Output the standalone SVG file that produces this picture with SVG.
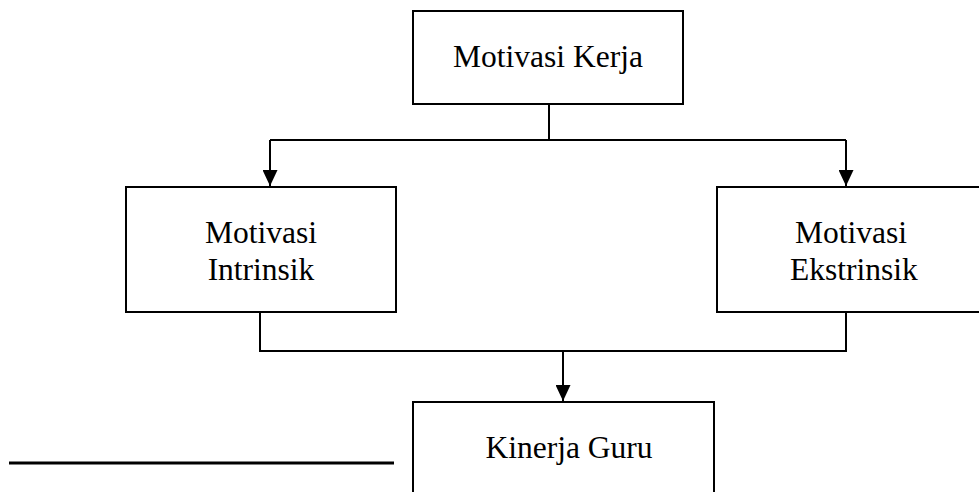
<svg xmlns="http://www.w3.org/2000/svg" width="979" height="492" viewBox="0 0 979 492">
<style>
.box{fill:#fff;stroke:#000;stroke-width:2}
.lbl{font-family:"Liberation Serif","Times New Roman",serif;font-size:31.5px;fill:#000;text-anchor:middle}
.con{fill:none;stroke:#000;stroke-width:2}
</style>
<defs>
<marker id="ah" markerUnits="userSpaceOnUse" markerWidth="16" markerHeight="15" refX="16" refY="7.5" orient="auto" viewBox="0 0 16 15">
<path d="M0,0 L16,7.5 L0,15 Z" fill="#000"/>
</marker>
</defs>
<rect width="979" height="492" fill="#fff"/>
<g id="connectors">
<path class="con" d="M549,104 V140"/>
<path class="con" d="M270,140 H846"/>
<path class="con" d="M270,140 V186" marker-end="url(#ah)"/>
<path class="con" d="M846,140 V186" marker-end="url(#ah)"/>
<path class="con" d="M260,313 V351 H846 V313"/>
<path class="con" d="M563,351 V401" marker-end="url(#ah)"/>
</g>
<g id="motivasi-kerja">
<rect class="box" x="413" y="11" width="270" height="93"/>
<text class="lbl" x="548" y="67">Motivasi Kerja</text>
</g>
<g id="motivasi-intrinsik">
<rect class="box" x="126" y="187" width="270" height="125"/>
<text class="lbl" x="261" y="243">Motivasi</text>
<text class="lbl" x="261" y="280">Intrinsik</text>
</g>
<g id="motivasi-ekstrinsik">
<rect class="box" x="717" y="187" width="270" height="125"/>
<text class="lbl" x="851" y="243">Motivasi</text>
<text class="lbl" x="854" y="280">Ekstrinsik</text>
</g>
<g id="kinerja-guru">
<rect class="box" x="413" y="402" width="301" height="100"/>
<text class="lbl" x="569" y="458">Kinerja Guru</text>
</g>
<line x1="9" y1="463" x2="394" y2="463" stroke="#000" stroke-width="3"/>
</svg>
